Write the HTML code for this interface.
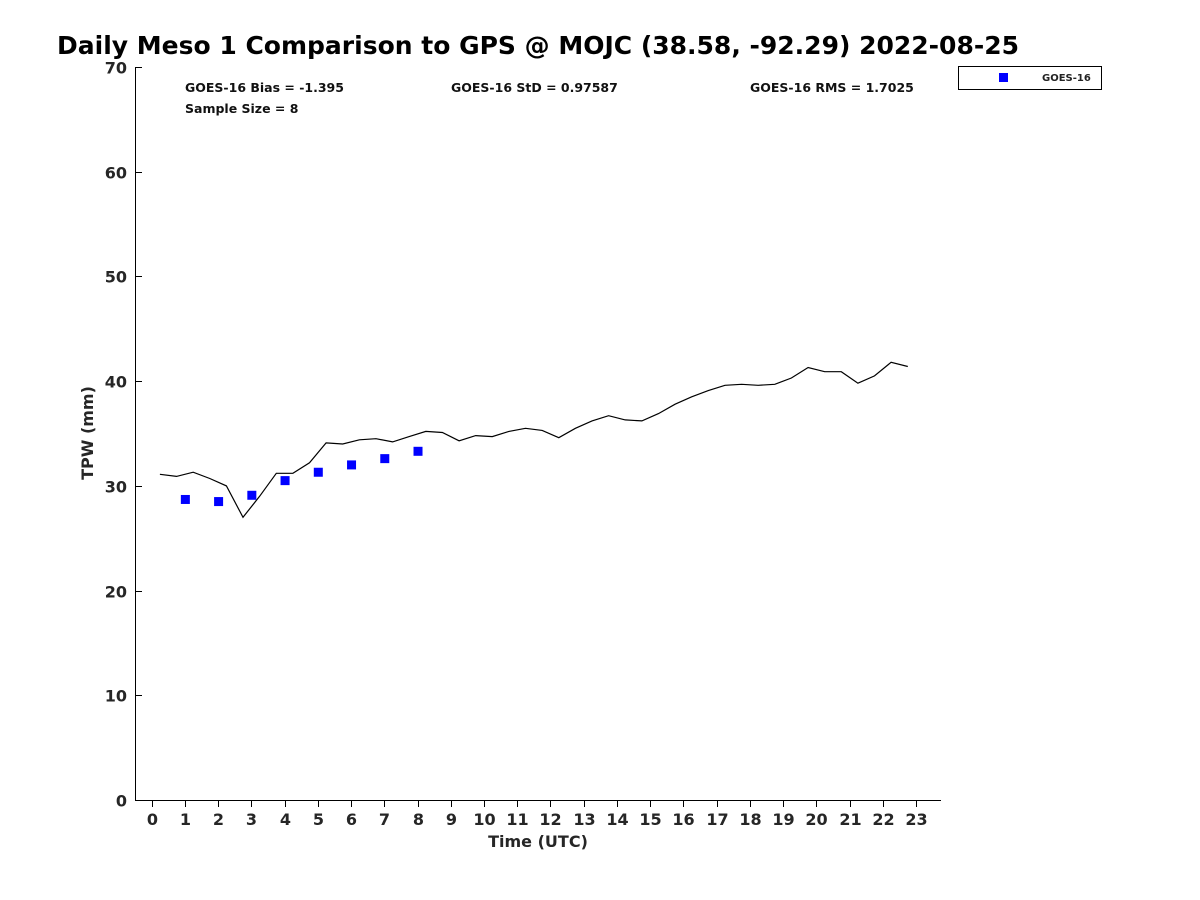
<!DOCTYPE html>
<html><head><meta charset="utf-8"><style>
html,body{margin:0;padding:0;background:#fff;}
svg{display:block;font-family:"DejaVu Sans","Liberation Sans",sans-serif;font-weight:bold;}
</style></head><body>
<svg id="chart" width="1200" height="900" viewBox="0 0 1200 900">
<text x="57" y="54" font-size="25" fill="#000">Daily Meso 1 Comparison to GPS @ MOJC (38.58, -92.29) 2022-08-25</text>
<g id="axes" fill="#262626"></g>
<g id="series"></g>
<text x="185" y="92" font-size="12.5" fill="#111">GOES-16 Bias = -1.395</text>
<text x="451" y="92" font-size="12.5" fill="#111">GOES-16 StD = 0.97587</text>
<text x="750" y="92" font-size="12.5" fill="#111">GOES-16 RMS = 1.7025</text>
<text x="185" y="113" font-size="12.5" fill="#111">Sample Size = 8</text>
<g>
<rect x="958.5" y="66.5" width="143" height="23" fill="#fff" stroke="#000" stroke-width="1"/>
<rect x="999" y="73" width="9" height="9" fill="#0000ff"/>
<text x="1042" y="81" font-size="10" fill="#222">GOES-16</text>
</g>
<text x="538" y="847" font-size="16" fill="#262626" text-anchor="middle">Time (UTC)</text>
<text transform="translate(93,433) rotate(-90)" font-size="16" fill="#262626" text-anchor="middle">TPW (mm)</text>
</svg>
<script>
const gpsTimes = [0.25,0.75,1.25,1.75,2.25,2.75,3.25,3.75,4.25,4.75,5.25,5.75,6.25,6.75,7.25,7.75,8.25,8.75,9.25,9.75,10.25,10.75,11.25,11.75,12.25,12.75,13.25,13.75,14.25,14.75,15.25,15.75,16.25,16.75,17.25,17.75,18.25,18.75,19.25,19.75,20.25,20.75,21.25,21.75,22.25,22.75];
const gpsValues = [31.1,30.9,31.3,30.7,30.0,27.0,29.0,31.2,31.2,32.2,34.1,34.0,34.4,34.5,34.2,34.7,35.2,35.1,34.3,34.8,34.7,35.2,35.5,35.3,34.6,35.5,36.2,36.7,36.3,36.2,36.9,37.8,38.5,39.1,39.6,39.7,39.6,39.7,40.3,41.3,40.9,40.9,39.8,40.5,41.8,41.4];
const goesTimes = [1,2,3,4,5,6,7,8];
const goesValues = [28.7,28.5,29.1,30.5,31.3,32.0,32.6,33.3];
const xTicks = [0,1,2,3,4,5,6,7,8,9,10,11,12,13,14,15,16,17,18,19,20,21,22,23];
const yTicks = [0,10,20,30,40,50,60,70];

const NS="http://www.w3.org/2000/svg";
const X0=135,X1=941,Y0=800,Y1=67;
const xMin=-0.5,xMax=23.75,yMin=0,yMax=70;
function sx(v){return X0+(v-xMin)/(xMax-xMin)*(X1-X0);}
function sy(v){return Y0-(v-yMin)/(yMax-yMin)*(Y0-Y1);}
function mk(tag,attrs,parent){const e=document.createElementNS(NS,tag);for(const k in attrs)e.setAttribute(k,attrs[k]);parent.appendChild(e);return e;}
const axes=document.getElementById('axes'),series=document.getElementById('series');
let l=mk('line',{x1:X0,y1:Y0+0.5,x2:X1,y2:Y0+0.5,stroke:'#000'},axes);


l=mk('line',{x1:X0+0.5,y1:Y1,x2:X0+0.5,y2:Y0,stroke:'#000'},axes);


xTicks.forEach(t=>{const x=Math.round(sx(t))+0.5;
 const tk=mk('line',{x1:x,y1:Y0,x2:x,y2:Y0+7,stroke:'#000'},axes);
 
 
 const tx=mk('text',{x:x,y:Y0+25,'font-size':16,'text-anchor':'middle'},axes);tx.textContent=t;
 
 
});
yTicks.forEach(t=>{const y=Math.round(sy(t))+0.5;
 const tk=mk('line',{x1:X0,y1:y,x2:X0+7,y2:y,stroke:'#000'},axes);
 
 
 const tx=mk('text',{x:X0-8,y:y+6,'font-size':16,'text-anchor':'end'},axes);tx.textContent=t;
 
 
});
const pl=mk('polyline',{points:gpsTimes.map((t,i)=>sx(t).toFixed(1)+','+sy(gpsValues[i]).toFixed(1)).join(' '),fill:'none',stroke:'#000','stroke-width':1.2},series);


goesTimes.forEach((t,i)=>{const r=mk('rect',{x:sx(t)-4,y:sy(goesValues[i])-4.5,width:9,height:9,fill:'#0000ff'},series);
 
 
});
</script>
</body></html>
